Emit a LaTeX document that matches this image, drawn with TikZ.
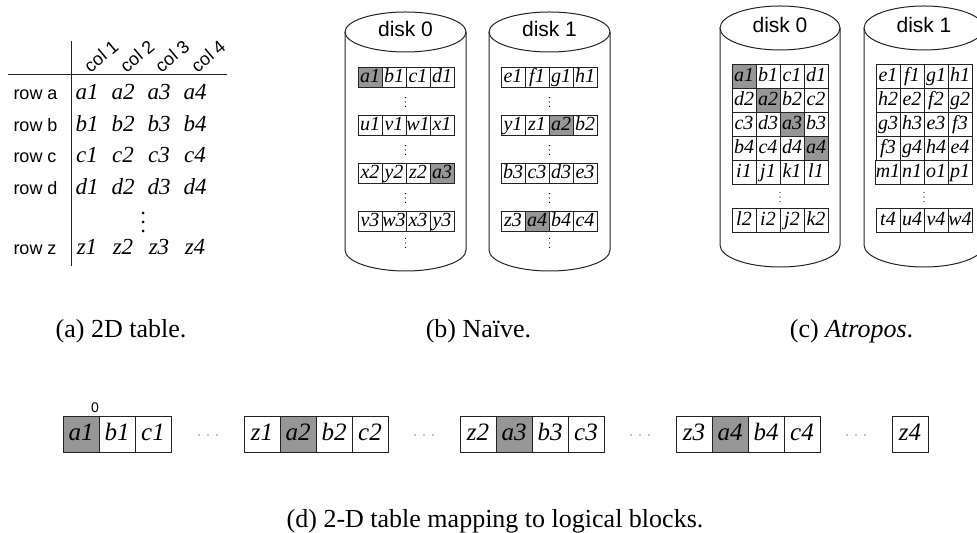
\documentclass[tikz,border=0pt]{standalone}
\usepackage{fontspec}
\setmainfont{Liberation Serif}
\setsansfont{Liberation Sans}
\usetikzlibrary{positioning}
\definecolor{cshade}{RGB}{150,150,150}
\definecolor{cedge}{RGB}{35,35,35}

\begin{document}
\begin{tikzpicture}[x=0.5pt,y=-0.5pt,font=\sffamily,line width=0.5pt,
  rowlab/.style={font=\sffamily\fontsize{9}{10}\selectfont,anchor=west,inner sep=0pt,
    text height=6.5pt,text depth=2pt},
  collab/.style={font=\sffamily\fontsize{9}{10}\selectfont,rotate=40},
  entry/.style={font=\rmfamily\itshape\fontsize{11.5}{12}\selectfont,
    text height=7.5pt,text depth=2.5pt},
  disklab/.style={font=\sffamily\fontsize{10.5}{12}\selectfont,
    text height=7.5pt,text depth=2pt},
  disk/.style={draw=cedge},
  slot/.style={draw=cedge,inner sep=0pt,minimum width=12pt,minimum height=10pt,
    text height=6.8pt,text depth=2.2pt,
    font=\rmfamily\itshape\fontsize{10}{10}\selectfont},
  tslot/.style={slot,minimum height=12pt},
  lblock/.style={draw=cedge,inner sep=0pt,minimum size=18pt,
    text height=8.5pt,text depth=2.8pt,
    font=\rmfamily\itshape\fontsize{12.5}{13}\selectfont},
  caption/.style={font=\rmfamily\fontsize{13}{15}\selectfont}]
\useasboundingbox (0,0) rectangle (977,533);
\clip (0,0) rectangle (977,533);
% ===================== (a) 2D table =====================
\draw[cedge] (71,41) -- (71,266);
\draw[cedge] (8,75) -- (227,75);
\foreach \cl/\xx in {1/101,2/137,3/172,4/208}
  \node[collab] (col\cl) at (\xx,56) {col \cl};
\foreach \rw/\yy in {a/95,b/127,c/158,d/190,z/250}{
  \node[rowlab] (row\rw) at (13,\yy) {row \rw};
  \foreach \cl/\xx in {1/87,2/123,3/159,4/195}
    \node[entry] (t\rw\cl) at (\xx,\yy) {\rw\cl};}
% vertical dots
\foreach \yy in {213,222,231}
  \fill (143,\yy) circle (1.5);
% ===================== (b) naive =====================
\foreach \dk/\cx in {0/405.5,1/549.5}{
  \draw[disk] (\cx,32) ellipse[x radius=60.5,y radius=20];
  \draw[disk] ({\cx-60.5},32) -- ({\cx-60.5},250)
    arc[start angle=180,end angle=0,x radius=60.5,y radius=21] -- ({\cx+60.5},32);
  \node[disklab] (nv\dk) at (\cx,31) {disk \dk};
  \foreach \yy in {102,150,198,243}
    \foreach \dd in {-4.5,0,4.5}
      \fill ({\cx},{\yy+\dd}) circle (0.7);}
% disk 0 rows
\foreach \yy/\lst [count=\rr] in {78/{a1/cshade,b1/white,c1/white,d1/white},
    126/{u1/white,v1/white,w1/white,x1/white},
    174/{x2/white,y2/white,z2/white,a3/cshade},
    222/{v3/white,w3/white,x3/white,y3/white}}
  \foreach \lb/\fc [count=\k] in \lst
    \node[slot,fill=\fc] (nv0-\rr-\k) at ({346+24*\k},\yy) {\lb};
% disk 1 rows
\foreach \yy/\lst [count=\rr] in {78/{e1/white,f1/white,g1/white,h1/white},
    126/{y1/white,z1/white,a2/cshade,b2/white},
    174/{b3/white,c3/white,d3/white,e3/white},
    222/{z3/white,a4/cshade,b4/white,c4/white}}
  \foreach \lb/\fc [count=\k] in \lst
    \node[slot,fill=\fc] (nv1-\rr-\k) at ({489+24*\k},\yy) {\lb};
% ===================== (c) Atropos =====================
\foreach \dk/\cx in {0/780,1/924}{
  \draw[disk] (\cx,28) ellipse[x radius=60,y radius=22];
  \draw[disk] ({\cx-60},28) -- ({\cx-60},245)
    arc[start angle=180,end angle=0,x radius=60,y radius=22] -- ({\cx+60},28);
  \node[disklab] (at\dk) at (\cx,27) {disk \dk};
  \foreach \dd in {-4.5,0,4.5}
    \fill ({\cx},{197+\dd}) circle (0.7);}
% disk 0 grid
\foreach \yy/\lst [count=\rr] in {77/{a1/cshade,b1/white,c1/white,d1/white},
    101/{d2/white,a2/cshade,b2/white,c2/white},
    125/{c3/white,d3/white,a3/cshade,b3/white},
    149/{b4/white,c4/white,d4/white,a4/cshade},
    173/{i1/white,j1/white,k1/white,l1/white},
    221/{l2/white,i2/white,j2/white,k2/white}}
  \foreach \lb/\fc [count=\k] in \lst
    \node[tslot,fill=\fc] (at0-\rr-\k) at ({720+24*\k},\yy) {\lb};
% disk 1 grid
\foreach \yy/\lst [count=\rr] in {77/{e1,f1,g1,h1},
    101/{h2,e2,f2,g2},
    125/{g3,h3,e3,f3},
    149/{f3,g4,h4,e4},
    173/{m1,n1,o1,p1},
    221/{t4,u4,v4,w4}}
  \foreach \lb [count=\k] in \lst
    \node[tslot] (at1-\rr-\k) at ({864+24*\k},\yy) {\lb};
% ===================== captions =====================
\node[caption] (capa) at (121,331) {(a) 2D table.};
\node[caption] (capb) at (478.5,331) {(b) Naïve.};
\node[caption] (capc) at (851.5,331) {(c) \textit{Atropos}.};
% ===================== (d) logical blocks =====================
\foreach \xx/\lb/\fc in {63/a1/cshade,99/b1/white,135/c1/white,
    244/z1/white,280/a2/cshade,316/b2/white,352/c2/white,
    460/z2/white,496/a3/cshade,532/b3/white,568/c3/white,
    676/z3/white,712/a4/cshade,748/b4/white,784/c4/white,
    892/z4/white}
  \node[lblock,fill=\fc] (lb-\lb) at ({\xx+18},434.5) {\lb};
\node[font=\sffamily\fontsize{7}{8}\selectfont] (lbl0) at (95,408) {0};
\foreach \xx in {208,424,640,856}
  \foreach \dd in {-9,0,9}
    \fill ({\xx+\dd},435) circle (0.7);
\node[caption] (capd) at (495,521) {(d) 2-D table mapping to logical blocks.};
\end{tikzpicture}
\end{document}
